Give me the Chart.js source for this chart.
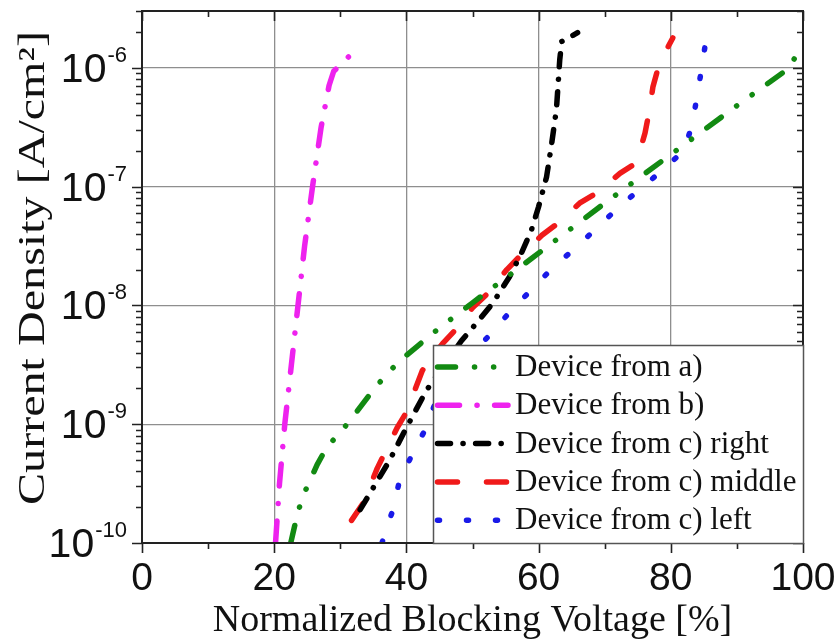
<!DOCTYPE html>
<html>
<head>
<meta charset="utf-8">
<script src="https://cdn.jsdelivr.net/npm/chart.js@4.4.1/dist/chart.umd.min.js"></script>
<style>
html,body{margin:0;padding:0;background:#fff;}
#wrap{width:836px;height:644px;position:relative;}
canvas{display:block;}
</style>
</head>
<body>
<div id="wrap"><canvas id="c" width="836" height="644"></canvas></div>
<script>
// ---------- data ----------
const xTickValues = [0, 20, 40, 60, 80, 100];
const xTickLabels = ['0', '20', '40', '60', '80', '100'];
const xMinorTicks = [10, 30, 50, 70, 90];
const yTickValues = [1e-10, 1e-9, 1e-8, 1e-7, 1e-6];
const yTickBase = '10';
const yTickExponents = ['-10', '-9', '-8', '-7', '-6'];

const xTitle = 'Normalized Blocking Voltage [%]';
const yTitle = 'Current Density [A/cm\u00B2]';

const seriesLabels = ['Device from a)', 'Device from b)', 'Device from c) right', 'Device from c) middle', 'Device from c) left'];

const aX = [22.5, 23.5, 24.3, 26.5, 28, 30, 32, 35, 37.5, 40, 45, 50, 60, 70, 80, 90, 98, 99.8];
const aY = [1.0e-10, 1.74e-10, 2.45e-10, 4.57e-10, 6.46e-10, 8.51e-10, 1.17e-9, 1.95e-9, 2.82e-9, 3.80e-9, 6.46e-9, 1.05e-8, 2.75e-8, 7.24e-8, 1.86e-7, 4.79e-7, 1.0e-6, 1.58e-6];

const bX = [20.2, 20.8, 21.6, 22.6, 23.6, 24.6, 25.8, 27.1, 28.3, 29.0, 30.3, 31.6];
const bY = [1.0e-10, 3.16e-10, 1.0e-9, 3.16e-9, 1.0e-8, 3.16e-8, 1.0e-7, 3.16e-7, 7.08e-7, 9.33e-7, 1.10e-6, 1.29e-6];

const cRightX = [33, 34.4, 37.4, 40, 43, 48.3, 50.6, 53.1, 55.6, 57.4, 58.9, 60, 61.2, 62.0, 62.7, 63.2, 63.5, 65.9];
const cRightY = [1.91e-10, 2.57e-10, 4.90e-10, 9.33e-10, 1.91e-9, 5.01e-9, 7.08e-9, 1.05e-8, 1.74e-8, 2.75e-8, 4.27e-8, 6.76e-8, 1.20e-7, 2.34e-7, 4.47e-7, 1.17e-6, 1.66e-6, 1.97e-6];

const cMiddleX = [31.7, 33.4, 35.6, 38.6, 40, 42.4, 45.5, 47.7, 50, 52.3, 55.2, 57.1, 60.5, 62.9, 66.2, 68.9, 72.3, 74.8, 76.1, 76.8, 77.3, 78.3, 80.3];
const cMiddleY = [1.55e-10, 2.14e-10, 4.27e-10, 9.33e-10, 1.26e-9, 2.82e-9, 4.79e-9, 6.46e-9, 9.55e-9, 1.26e-8, 2.0e-8, 2.57e-8, 3.89e-8, 4.90e-8, 7.24e-8, 8.91e-8, 1.29e-7, 1.58e-7, 2.82e-7, 4.47e-7, 6.92e-7, 1.10e-6, 1.78e-6];

const cLeftX = [36.3, 37.9, 38.9, 40.9, 42.9, 44.5, 48.5, 52.9, 55.9, 58.9, 62.0, 65.5, 68.8, 72.0, 75.6, 78.8, 82.1, 83.3, 84.1, 84.8, 85.5];
const cLeftY = [1.0e-10, 1.86e-10, 3.24e-10, 5.62e-10, 9.12e-10, 1.58e-9, 3.16e-9, 5.89e-9, 9.12e-9, 1.35e-8, 2.04e-8, 3.02e-8, 4.47e-8, 6.61e-8, 9.77e-8, 1.38e-7, 2.04e-7, 3.47e-7, 6.31e-7, 1.10e-6, 2.0e-6];

// ---------- styles ----------
const seriesColors = ['#128a12', '#ee22ee', '#000000', '#f01a1a', '#1a1ae8'];
const seriesDashes = [
  [18, 19, 0.1, 19, 0.1, 19],
  [22, 17.5, 0.1, 17.5],
  [13, 12.5, 0.1, 12.5],
  [20, 29],
  [2, 27]
];
const seriesXs = [aX, bX, cRightX, cMiddleX, cLeftX];
const seriesYs = [aY, bY, cRightY, cMiddleY, cLeftY];

const SERIF = '"Liberation Serif", "Times New Roman", Times, serif';
const SANS = '"Liberation Sans", Arial, Helvetica, sans-serif';

const datasets = seriesLabels.map((label, k) => ({
  label: label,
  data: seriesXs[k].map((x, i) => ({ x: x, y: seriesYs[k][i] })),
  borderColor: seriesColors[k],
  backgroundColor: seriesColors[k],
  borderWidth: 5.5,
  borderDash: seriesDashes[k],
  borderCapStyle: 'round',
  borderJoinStyle: 'round',
  pointRadius: 0,
  fill: false,
  tension: 0
}));

function stretchedText(ctx, text, x, y, sx, sy, rot) {
  ctx.save();
  ctx.translate(x, y);
  if (rot) ctx.rotate(rot);
  ctx.scale(sx, sy);
  ctx.fillText(text, 0, 0);
  ctx.restore();
}

const framePlugin = {
  id: 'frame',
  afterDatasetsDraw(chart) {
    const ctx = chart.ctx;
    const a = chart.chartArea;
    const xs = chart.scales.x, ys = chart.scales.y;
    ctx.save();
    ctx.strokeStyle = '#222';
    ctx.lineWidth = 1.6;
    ctx.setLineDash([]);
    ctx.beginPath();
    // x ticks: bottom outward, top inward
    const xt = xTickValues.map(v => [v, 10]).concat(xMinorTicks.map(v => [v, 6]));
    xt.forEach(([v, len]) => {
      const px = Math.round(xs.getPixelForValue(v)) + 0.5;
      ctx.moveTo(px, a.bottom); ctx.lineTo(px, a.bottom + len);
      ctx.moveTo(px, a.top); ctx.lineTo(px, a.top + len);
    });
    // y ticks: left outward, right inward
    const yt = [];
    yTickValues.forEach(v => {
      yt.push([v, 10]);
      for (let m = 2; m <= 9; m++) yt.push([v * m, 6]);
    });
    yt.forEach(([v, len]) => {
      if (v > ys.max * 1.0001 || v < ys.min) return;
      const py = Math.round(ys.getPixelForValue(v)) + 0.5;
      ctx.moveTo(a.left, py); ctx.lineTo(a.left - len, py);
      ctx.moveTo(a.right, py); ctx.lineTo(a.right - len, py);
    });
    ctx.stroke();
    // frame
    ctx.lineWidth = 2;
    ctx.strokeRect(a.left, a.top, a.right - a.left, a.bottom - a.top);

    // legend box
    const lx = 433, ly = 345, lw = a.right - 433, lh = a.bottom - 345;
    ctx.fillStyle = '#fff';
    ctx.fillRect(lx, ly, lw, lh);
    ctx.strokeStyle = '#555';
    ctx.lineWidth = 1.5;
    ctx.strokeRect(lx + 0.5, ly + 0.5, lw, lh);
    chart.data.datasets.forEach((ds, k) => {
      const cy = 367 + k * 38.3;
      ctx.save();
      ctx.strokeStyle = ds.borderColor;
      ctx.lineWidth = 5.5;
      ctx.lineCap = 'round';
      ctx.setLineDash(ds.borderDash);
      ctx.beginPath();
      ctx.moveTo(437.5, cy);
      ctx.lineTo(508, cy);
      ctx.stroke();
      ctx.restore();
      ctx.fillStyle = '#111';
      ctx.font = '31px ' + SERIF;
      ctx.textAlign = 'left';
      ctx.textBaseline = 'middle';
      ctx.fillText(ds.label, 515, cy + 1);
    });

    // tick labels
    ctx.fillStyle = '#111';
    ctx.font = '39px ' + SANS;
    ctx.textAlign = 'center';
    ctx.textBaseline = 'alphabetic';
    xTickValues.forEach((v, i) => {
      ctx.fillText(xTickLabels[i], xs.getPixelForValue(v), 590);
    });
    yTickValues.forEach((v, i) => {
      const py = ys.getPixelForValue(v);
      const expRight = a.left - 15;
      ctx.textAlign = 'right';
      ctx.font = '22px ' + SANS;
      const ew = ctx.measureText(yTickExponents[i]).width;
      ctx.fillText(yTickExponents[i], expRight, py - 6);
      ctx.font = '41px ' + SANS;
      ctx.fillText(yTickBase, expRight - ew - 1, py + 14);
    });

    // axis titles
    ctx.font = '38px ' + SERIF;
    ctx.textAlign = 'center';
    ctx.textBaseline = 'alphabetic';
    stretchedText(ctx, chart.options.scales.x.title.text, (a.left + a.right) / 2, 631, 1, 1, 0);
    ctx.font = '37px ' + SERIF;
    ctx.textBaseline = 'middle';
    stretchedText(ctx, chart.options.scales.y.title.text, 34, 268, 1.3, 1, -Math.PI / 2);
    ctx.restore();
  }
};

new Chart(document.getElementById('c').getContext('2d'), {
  type: 'line',
  data: { datasets: datasets },
  options: {
    responsive: false,
    animation: false,
    devicePixelRatio: 1,
    layout: { padding: { top: 11, right: 33, left: 0, bottom: 0 } },
    plugins: { legend: { display: false }, tooltip: { enabled: false } },
    scales: {
      x: {
        type: 'linear', min: 0, max: 100,
        afterBuildTicks: s => { s.ticks = xTickValues.map(v => ({ value: v })); },
        afterFit: s => { s.height = 101; },
        ticks: { display: false },
        grid: { color: '#8e8e8e', lineWidth: 1.3, drawTicks: false },
        border: { display: false },
        title: { display: false, text: xTitle }
      },
      y: {
        type: 'logarithmic', min: 1e-10, max: 3e-6,
        afterBuildTicks: s => { s.ticks = yTickValues.map(v => ({ value: v })); },
        afterFit: s => { s.width = 142; },
        ticks: { display: false },
        grid: { color: '#8e8e8e', lineWidth: 1.3, drawTicks: false },
        border: { display: false },
        title: { display: false, text: yTitle }
      }
    }
  },
  plugins: [framePlugin]
});
</script>
</body>
</html>
